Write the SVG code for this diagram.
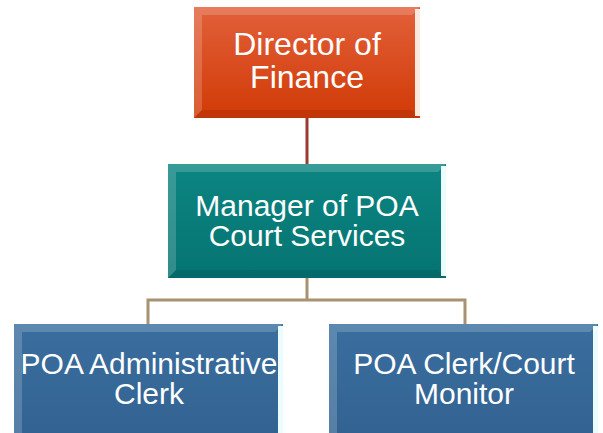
<svg xmlns="http://www.w3.org/2000/svg" width="603" height="433" viewBox="0 0 603 433">
<style>
.t{font-family:"Liberation Sans",Arial,sans-serif;fill:#ffffff;text-anchor:middle}
.hl{fill:#ffffff;opacity:0.18}
.sh{fill:#000000;opacity:0.08}
.edge{fill:#eafcff}
</style>
<defs>
<linearGradient id="gR" x1="0" y1="0" x2="0" y2="1">
<stop offset="0" stop-color="#e2603a"/><stop offset="1" stop-color="#d13a06"/>
</linearGradient>
<linearGradient id="gT" x1="0" y1="0" x2="0" y2="1">
<stop offset="0" stop-color="#0c8582"/><stop offset="1" stop-color="#057472"/>
</linearGradient>
<linearGradient id="gB" x1="0" y1="0" x2="0" y2="1">
<stop offset="0" stop-color="#3a6e9e"/><stop offset="1" stop-color="#326292"/>
</linearGradient>
</defs>
<g id="connectors" fill="none" stroke-width="3">
<line x1="307" y1="118" x2="307" y2="164" stroke="#9b3a30"/>
<polyline points="148,324 148,300 465,300 465,324" stroke="#a89272"/>
<line x1="307" y1="278" x2="307" y2="300" stroke="#a89272"/>
</g>
<g id="director">
<rect x="194" y="7" width="226" height="111" fill="url(#gR)"/>
<polygon class="hl" points="194,7 420,7 412,15 202,15"/>
<polygon class="hl" points="194,7 202,15 202,110 194,118"/>
<polygon class="sh" points="194,118 202,110 412,110 420,118"/>
<rect x="415" y="9" width="5" height="107" fill="#fbe8df"/>
<text class="t" x="307" y="55" font-size="32">Director of</text>
<text class="t" x="307" y="88" font-size="32">Finance</text>
</g>
<g id="manager">
<rect x="168" y="164" width="278" height="114" fill="url(#gT)"/>
<polygon class="hl" points="168,164 446,164 438,172 176,172"/>
<polygon class="hl" points="168,164 176,172 176,270 168,278"/>
<polygon class="sh" points="168,278 176,270 438,270 446,278"/>
<rect x="441" y="166" width="5" height="110" class="edge"/>
<text class="t" x="307" y="216" font-size="30">Manager of POA</text>
<text class="t" x="307" y="246" font-size="30">Court Services</text>
</g>
<g id="admin-clerk">
<rect x="14" y="324" width="269" height="115" fill="url(#gB)"/>
<polygon class="hl" points="14,324 283,324 275,332 22,332"/>
<polygon class="hl" points="14,324 22,332 22,433 14,433"/>
<rect x="278" y="326" width="5" height="107" class="edge"/>
<text class="t" x="149" y="374" font-size="30">POA Administrative</text>
<text class="t" x="149" y="404" font-size="30">Clerk</text>
</g>
<g id="clerk-monitor">
<rect x="329" y="324" width="269" height="115" fill="url(#gB)"/>
<polygon class="hl" points="329,324 598,324 590,332 337,332"/>
<polygon class="hl" points="329,324 337,332 337,433 329,433"/>
<rect x="593" y="326" width="5" height="107" class="edge"/>
<text class="t" x="464" y="374" font-size="30">POA Clerk/Court</text>
<text class="t" x="464" y="404" font-size="30">Monitor</text>
</g>
</svg>
